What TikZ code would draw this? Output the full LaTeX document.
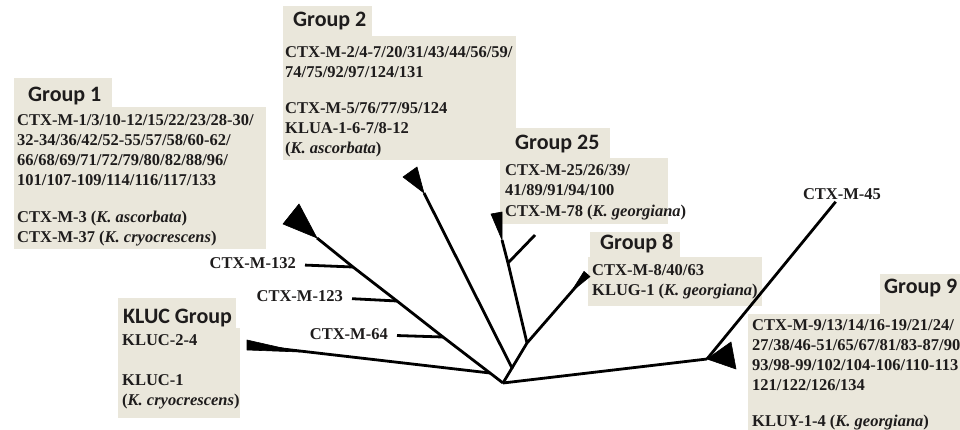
\documentclass[tikz,border=0pt]{standalone}
\usepackage{fontspec}
\setmainfont{Liberation Serif}
\newfontfamily\headfamily{Carlito}
\definecolor{boxc}{RGB}{234,231,219}
\definecolor{txt}{RGB}{30,28,28}
\newcommand\bodyfnt{\fontsize{16.5}{20}\selectfont\bfseries}
\newcommand\headfnt{\headfamily\fontsize{22}{26}\selectfont\bfseries}
\begin{document}
\begin{tikzpicture}[x=1pt,y=-1pt,
  panel/.style={fill=boxc,draw=none},
  body/.style={font=\bodyfnt,text=txt,inner sep=0pt,anchor=base west},
  head/.style={font=\headfnt,text=txt,inner sep=0pt,anchor=base west},
  leaf/.style={font=\bodyfnt,text=txt,inner ysep=0pt,inner xsep=9pt},
  branch/.style={draw=black,line width=2.8pt},
  wedge/.style={fill=black,draw=black,line width=0.6pt,line join=round}]
\clip (0,0) rectangle (960,430);
\fill[white] (0,0) rectangle (960,430);

% ---------- panels ----------
\fill[panel] (14,78) rectangle (112,107);
\fill[panel] (14,107) rectangle (266,249);
\fill[panel] (283,6) rectangle (372,36);
\fill[panel] (283,36) rectangle (516,160);
\fill[panel] (505,128) rectangle (610,158);
\fill[panel] (500,158) rectangle (668,224);
\fill[panel] (590,232) rectangle (680,257);
\fill[panel] (588,257) rectangle (762,306);
\fill[panel] (880,274) rectangle (960,314);
\fill[panel] (748,314) rectangle (960,430);
\fill[panel] (118,298) rectangle (236,328);
\fill[panel] (118,328) rectangle (240,418);

% ---------- Group 1 ----------
\node[head] (g1h) at (28,102) {Group 1};
\node[body] (g1a) at (17,125.5) {CTX-M-1/3/10-12/15/22/23/28-30/};
\node[body] (g1b) at (17,145.5) {32-34/36/42/52-55/57/58/60-62/};
\node[body] (g1c) at (17,165.5) {66/68/69/71/72/79/80/82/88/96/};
\node[body] (g1d) at (17,186) {101/107-109/114/116/117/133};
\node[body] (g1e) at (17,223) {CTX-M-3 (\textit{K. ascorbata})};
\node[body] (g1f) at (17,243) {CTX-M-37 (\textit{K. cryocrescens})};

% ---------- Group 2 ----------
\node[head] (g2h) at (293,27) {Group 2};
\node[body] (g2a) at (285,57.5) {CTX-M-2/4-7/20/31/43/44/56/59/};
\node[body] (g2b) at (285,77.5) {74/75/92/97/124/131};
\node[body] (g2c) at (285,113.5) {CTX-M-5/76/77/95/124};
\node[body] (g2d) at (285,133.5) {KLUA-1-6-7/8-12};
\node[body] (g2e) at (285,153.5) {(\textit{K. ascorbata})};

% ---------- Group 25 ----------
\node[head] (g25h) at (515,150) {Group 25};
\node[body] (g25a) at (505,175.5) {CTX-M-25/26/39/};
\node[body] (g25b) at (505,195.5) {41/89/91/94/100};
\node[body] (g25c) at (505,216.5) {CTX-M-78 (\textit{K. georgiana})};

% ---------- Group 8 ----------
\node[head] (g8h) at (600,250) {Group 8};
\node[body] (g8a) at (592,275.5) {CTX-M-8/40/63};
\node[body] (g8b) at (592,295.5) {KLUG-1 (\textit{K. georgiana})};

% ---------- Group 9 ----------
\node[head] (g9h) at (884,293) {Group 9};
\node[body] (g9a) at (752,330.5) {CTX-M-9/13/14/16-19/21/24/};
\node[body] (g9b) at (752,350.5) {27/38/46-51/65/67/81/83-87/90};
\node[body] (g9c) at (752,370.5) {93/98-99/102/104-106/110-113};
\node[body] (g9d) at (752,390.5) {121/122/126/134};
\node[body] (g9e) at (752,426.5) {KLUY-1-4 (\textit{K. georgiana})};

% ---------- KLUC ----------
\node[head] (gkh) at (123,323) {KLUC Group};
\node[body] (gka) at (122,345.5) {KLUC-2-4};
\node[body] (gkb) at (122,385.5) {KLUC-1};
\node[body] (gkc) at (122,405.5) {(\textit{K. cryocrescens})};

% ---------- leaf labels ----------
\node[leaf,anchor=east] (l132) at (305,263) {CTX-M-132};
\node[leaf,anchor=east] (l123) at (352,296) {CTX-M-123};
\node[leaf,anchor=east] (l64) at (397,334) {CTX-M-64};
\node[leaf,inner xsep=0pt,inner ysep=2pt] (l45) at (842,194) {CTX-M-45};

% ---------- tree coordinates ----------
\coordinate (root) at (503,383);
\coordinate (c9) at (707,359);
\coordinate (a) at (512,368);
\coordinate (b) at (527,343);
\coordinate (c) at (508,263);
\coordinate (t25) at (502,240);
\coordinate (e25) at (535,235);
\coordinate (e8) at (587,274);
\coordinate (t2) at (424,193);
\coordinate (n1) at (490,373);
\coordinate (j64) at (443,337);
\coordinate (j123) at (397,301);
\coordinate (j132) at (353,267);
\coordinate (t1) at (317,238);
\coordinate (tk) at (300,352);
\coordinate (kl) at (248,345);

% ---------- branches ----------
\draw[branch] (root) -- (c9);
\draw[branch] (c9) -- (l45);
\draw[branch] (root) -- (a) -- (t2);
\draw[branch] (a) -- (b) -- (e8);
\draw[branch] (b) -- (c) -- (t25);
\draw[branch] (c) -- (e25);
\draw[branch] (root) -- (n1) -- (j64) -- (j123) -- (j132) -- (t1);
\draw[branch] (n1) -- (kl);
\draw[branch] (j64) -- (l64);
\draw[branch] (j123) -- (l123);
\draw[branch] (j132) -- (l132);

% ---------- collapsed clades ----------
\fill[wedge] (c9) -- (731,342) -- (736,369) -- cycle;
\fill[wedge] (t2) -- (403,177) -- (417,167) -- cycle;
\fill[wedge] (t25) -- (491,214) -- (502,212) -- cycle;
\fill[wedge] (t1) -- (283,224) -- (299,204) -- cycle;
\fill[wedge] (tk) -- (247,350) -- (247,340) -- cycle;
\fill[wedge] (571,292) -- (590,276.6) -- (584,271.4) -- cycle;
\end{tikzpicture}
\end{document}
